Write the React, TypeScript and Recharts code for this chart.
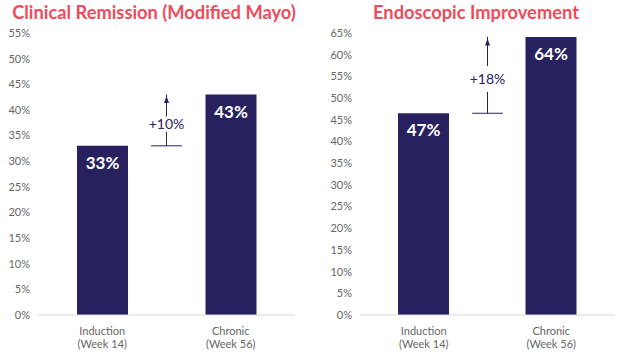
import React from "react";
import {
  BarChart,
  Bar,
  XAxis,
  YAxis,
  ReferenceLine,
  ReferenceDot,
  LabelList,
} from "recharts";

const CATEGORIES = ["Induction|(Week 14)", "Chronic|(Week 56)"];
const POSITIONS = [0.5, 1.5];
const REMISSION = [33, 43];
const ENDOSCOPIC = [46.5, 64.1];
const REMISSION_TICKS = [0, 5, 10, 15, 20, 25, 30, 35, 40, 45, 50, 55];
const ENDOSCOPIC_TICKS = [0, 5, 10, 15, 20, 25, 30, 35, 40, 45, 50, 55, 60, 65];

const NAVY = "#27225f";
const RED = "#f04a5c";
const FONT = "Lato, 'Open Sans', sans-serif";

function CategoryTick(props: any) {
  const { x, y, payload } = props;
  const idx = POSITIONS.indexOf(Number(payload.value));
  const [a, b] = (CATEGORIES[idx] || "").split("|");
  return (
    <g transform={`translate(${x},${y})`}>
      <text textAnchor="middle" fill="#666" fontSize={11} fontFamily={FONT}>
        <tspan x={0} dy={12}>{a}</tspan>
        <tspan x={0} dy={13}>{b}</tspan>
      </text>
    </g>
  );
}

interface PanelProps {
  title: string;
  values: number[];
  ticks: number[];
  width: number;
  yWidth: number;
  right: number;
  titleCenter: number;
  gap: number;
  shift: number;
}

function Panel({ title, values, ticks, width, yWidth, right, titleCenter, gap, shift }: PanelProps) {
  const data = CATEGORIES.map((c, i) => ({ cat: c, pos: POSITIONS[i], v: values[i] }));
  const lo = values[0];
  const hi = values[1];
  const mid = (lo + hi) / 2 - shift;
  const max = ticks[ticks.length - 1];
  const label = `+${Math.round(hi - lo)}%`;

  return (
    <div style={{ position: "relative", width, height: 359 }}>
      <div
        style={{
          position: "absolute",
          top: 0,
          left: titleCenter - 200,
          width: 400,
          textAlign: "center",
          color: RED,
          fontFamily: FONT,
          fontWeight: 700,
          fontSize: 18.3,
          lineHeight: "24px",
        }}
      >
        {title}
      </div>
      <BarChart
        width={width}
        height={359}
        data={data}
        margin={{ top: 33, right, bottom: 0, left: 0 }}
      >
        <XAxis
          dataKey="pos"
          type="number"
          domain={[0, 2]}
          ticks={POSITIONS}
          allowDataOverflow
          height={44}
          tickLine={false}
          axisLine={{ stroke: "#d9d9d9" }}
          tick={<CategoryTick />}
          interval={0}
        />
        <YAxis
          width={yWidth}
          domain={[0, max]}
          ticks={ticks}
          interval={0}
          axisLine={false}
          tickLine={false}
          tickFormatter={(v: number) => `${v}%`}
          tick={{ fill: "#666", fontSize: 11, fontFamily: FONT }}
        />
        <Bar dataKey="v" fill={NAVY} barSize={51} isAnimationActive={false}>
          <LabelList
            dataKey="v"
            position="insideTop"
            offset={11}
            formatter={(v: any) => `${Math.round(Number(v))}%`}
            fill="#fff"
            fontSize={17}
            fontWeight={700}
            fontFamily={FONT}
          />
        </Bar>
        <ReferenceLine
          segment={[
            { x: 0.88, y: lo },
            { x: 1.12, y: lo },
          ]}
          stroke={NAVY}
          strokeWidth={1}
        />
        <ReferenceLine
          segment={[
            { x: 1, y: lo },
            { x: 1, y: mid - gap },
          ]}
          stroke={NAVY}
          strokeWidth={1}
        />
        <ReferenceLine
          segment={[
            { x: 1, y: mid + gap },
            { x: 1, y: hi },
          ]}
          stroke={NAVY}
          strokeWidth={1}
        />
        <ReferenceDot
          x={1}
          y={hi}
          shape={(p: any) => (
            <path
              d={`M${p.cx},${p.cy + 1.5} L${p.cx - 2.5},${p.cy + 8.5} L${p.cx + 2.5},${p.cy + 8.5} Z`}
              fill={NAVY}
            />
          )}
        />
        <ReferenceDot
          x={1}
          y={mid}
          shape={(p: any) => (
            <text
              x={p.cx}
              y={p.cy + 5}
              textAnchor="middle"
              fill={NAVY}
              fontSize={14}
              fontFamily={FONT}
            >
              {label}
            </text>
          )}
        />
      </BarChart>
    </div>
  );
}

export default function App() {
  return (
    <div
      style={{
        position: "absolute",
        left: 0,
        top: 0,
        width: 637,
        height: 359,
        background: "#fff",
        display: "flex",
      }}
    >
      <Panel
        title="Clinical Remission (Modified Mayo)"
        values={REMISSION}
        ticks={REMISSION_TICKS}
        width={318}
        yWidth={38}
        right={23}
        titleCenter={154}
        gap={1.5}
        shift={0.8}
      />
      <Panel
        title="Endoscopic Improvement"
        values={ENDOSCOPIC}
        ticks={ENDOSCOPIC_TICKS}
        width={319}
        yWidth={42}
        right={22}
        titleCenter={158}
        gap={3}
        shift={0.9}
      />
    </div>
  );
}
